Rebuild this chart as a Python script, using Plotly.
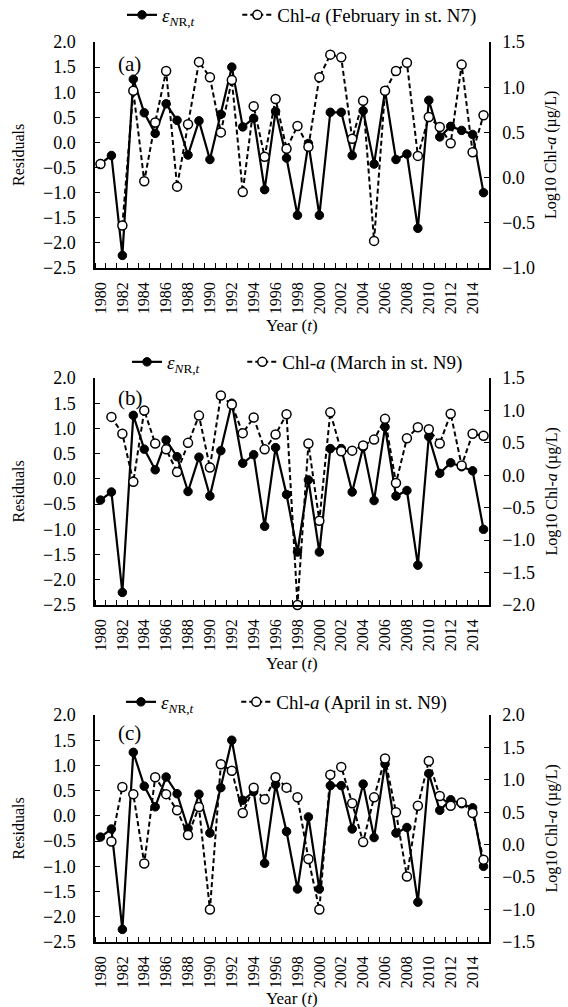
import plotly.graph_objects as go

years = list(range(1980, 2016))
residuals = [-0.42, -0.26, -2.25, 1.26, 0.59, 0.18, 0.77, 0.44, -0.25, 0.43,
             -0.34, 0.56, 1.50, 0.31, 0.48, -0.94, 0.62, -0.31, -1.45, -0.02,
             -1.45, 0.60, 0.60, -0.26, 0.63, -0.43, 1.03, -0.34, -0.23, -1.71,
             0.84, 0.11, 0.32, 0.24, 0.16, -1.00]
chl_feb_n7 = [0.15, None, -0.53, 0.96, -0.04, 0.61, 1.18, -0.10, 0.59, 1.28,
              1.11, 0.50, 1.08, -0.16, 0.79, 0.23, 0.87, 0.32, 0.57, 0.34,
              1.11, 1.36, 1.33, 0.43, 0.85, -0.70, 0.96, 1.18, 1.27, 0.24,
              0.67, 0.56, 0.38, 1.25, 0.28, 0.69]
chl_mar_n9 = [None, 0.90, 0.64, -0.10, 1.00, 0.49, 0.40, 0.05, 0.50, 0.92,
              0.12, 1.23, 1.09, 0.65, 0.89, 0.40, 0.63, 0.94, -2.00, 0.49,
              -0.70, 0.97, 0.37, 0.38, 0.46, 0.55, 0.87, -0.12, 0.57, 0.74,
              0.71, 0.49, 0.95, 0.15, 0.64, 0.61]
chl_apr_n9 = [None, 0.05, 0.89, 0.78, -0.29, 1.04, 0.78, 0.53, 0.15, 0.58,
              -1.00, 1.24, 1.14, 0.49, 0.88, 0.70, 1.04, 0.88, 0.73, -0.22,
              -1.00, 1.08, 1.20, 0.64, 0.04, 0.73, 1.33, 0.50, -0.49, 0.60,
              1.29, 0.75, 0.60, 0.65, 0.49, -0.23]

panel_labels = ["(a)", "(b)", "(c)"]
chl_names = ["Chl-<i>a</i> (February in st. N7)",
             "Chl-<i>a</i> (March in st. N9)",
             "Chl-<i>a</i> (April in st. N9)"]
chl_series = [chl_feb_n7, chl_mar_n9, chl_apr_n9]
right_ranges = [[-1.0, 1.5], [-2.0, 1.5], [-1.5, 2.0]]
left_range = [-2.5, 2.0]
resid_name = "<i>ε</i><sub><i>N</i>R,<i>t</i></sub>" + "\u00a0" * 8

tick_years = [y for y in years if y % 2 == 0 and y <= 2014]
boundaries = [y - 0.5 for y in years] + [years[-1] + 0.5]

W, H = 568, 1007
FONT = "Liberation Serif"
x_left, x_right = 95, 489
tops = [42, 378, 715]
bottoms = [268, 605, 942]
legend_y = [15, 362, 702]
legend_x = [122, 127, 121]
year_y = [326, 663, 998]
label_pos = [(129, 64), (130, 398), (129, 733)]

def px_x(v):
    return v / W

def px_y(v):
    return 1 - v / H

def fnt(size):
    return dict(family=FONT, size=size, color="black")

fig = go.Figure()
layout = dict(
    width=W, height=H, autosize=False,
    margin=dict(l=0, r=0, t=0, b=0, autoexpand=False),
    paper_bgcolor="white", plot_bgcolor="white",
    font=fnt(17),
    showlegend=True,
)
annotations = []

for i in range(3):
    xa = "x" if i == 0 else f"x{i+1}"
    yl = f"y{2*i+1}" if i > 0 else "y"
    yr = f"y{2*i+2}"
    leg = "legend" if i == 0 else f"legend{i+1}"
    fig.add_trace(go.Scatter(
        x=years, y=residuals, name=resid_name, mode="lines+markers",
        line=dict(color="black", width=2.2),
        marker=dict(symbol="circle", size=8.5, color="black",
                    line=dict(color="black", width=1)),
        xaxis=xa, yaxis=yl, legend=leg, cliponaxis=False))
    fig.add_trace(go.Scatter(
        x=years, y=chl_series[i], name=chl_names[i], mode="lines+markers",
        line=dict(color="black", width=2, dash="5px,3px"),
        marker=dict(symbol="circle", size=9, color="white",
                    line=dict(color="black", width=1.5)),
        connectgaps=False,
        xaxis=xa, yaxis=yr, legend=leg, cliponaxis=False))

    dom_y = [px_y(bottoms[i]), px_y(tops[i])]
    xkey = "xaxis" if i == 0 else f"xaxis{i+1}"
    ylkey = "yaxis" if i == 0 else f"yaxis{2*i+1}"
    yrkey = f"yaxis{2*i+2}"
    layout[xkey] = dict(
        domain=[px_x(x_left), px_x(x_right)], anchor=yl,
        range=[years[0] - 0.5, years[-1] + 0.5],
        tickmode="array", tickvals=tick_years,
        ticktext=[str(y) for y in tick_years],
        tickangle=-90, ticks="", showgrid=False, zeroline=False,
        showline=True, linecolor="black", linewidth=1.5,
        tickfont=fnt(16), ticklabelstandoff=6,
        minor=dict(tickmode="array", tickvals=boundaries, ticks="inside",
                   ticklen=5, tickcolor="black", tickwidth=1.2, showgrid=False),
    )
    layout[ylkey] = dict(
        domain=dom_y, anchor=xa, range=left_range, dtick=0.5, tick0=0,
        tickformat=".1f", ticks="inside", ticklen=5, tickcolor="black",
        tickwidth=1.2, showline=True, linecolor="black", linewidth=1.5,
        showgrid=False, zeroline=False, tickfont=fnt(18),
        ticklabelstandoff=14,
    )
    layout[yrkey] = dict(
        domain=dom_y, anchor=xa, overlaying=yl, side="right",
        range=right_ranges[i], dtick=0.5, tick0=0,
        tickformat=".1f", ticks="inside", ticklen=5, tickcolor="black",
        tickwidth=1.2, showline=True, linecolor="black", linewidth=1.5,
        showgrid=False, zeroline=False, tickfont=fnt(18),
        ticklabelstandoff=8,
    )
    layout[leg] = dict(
        orientation="h", x=px_x(legend_x[i]), xanchor="left",
        y=px_y(legend_y[i]), yanchor="middle", font=fnt(19),
        bgcolor="rgba(0,0,0,0)", itemwidth=30, tracegroupgap=0,
    )
    mid = (tops[i] + bottoms[i]) / 2
    annotations += [
        dict(text="Residuals", x=px_x(18), y=px_y(mid), xref="paper", yref="paper",
             showarrow=False, textangle=-90, font=fnt(16),
             xanchor="center", yanchor="middle"),
        dict(text="Log10 Chl-<i>a</i> (µg/L)", x=px_x(551), y=px_y(mid),
             xref="paper", yref="paper", showarrow=False, textangle=-90,
             font=fnt(16), xanchor="center", yanchor="middle"),
        dict(text="Year (<i>t</i>)", x=px_x((x_left + x_right) / 2), y=px_y(year_y[i]),
             xref="paper", yref="paper", showarrow=False, font=fnt(17),
             xanchor="center", yanchor="middle"),
        dict(text=panel_labels[i], x=px_x(label_pos[i][0]), y=px_y(label_pos[i][1]),
             xref="paper", yref="paper", showarrow=False, font=fnt(21),
             xanchor="center", yanchor="middle"),
    ]

layout["annotations"] = annotations
fig.update_layout(**layout)
fig.write_html("out.html", config={"displayModeBar": False},
               post_script="document.body.style.margin='0px';")
